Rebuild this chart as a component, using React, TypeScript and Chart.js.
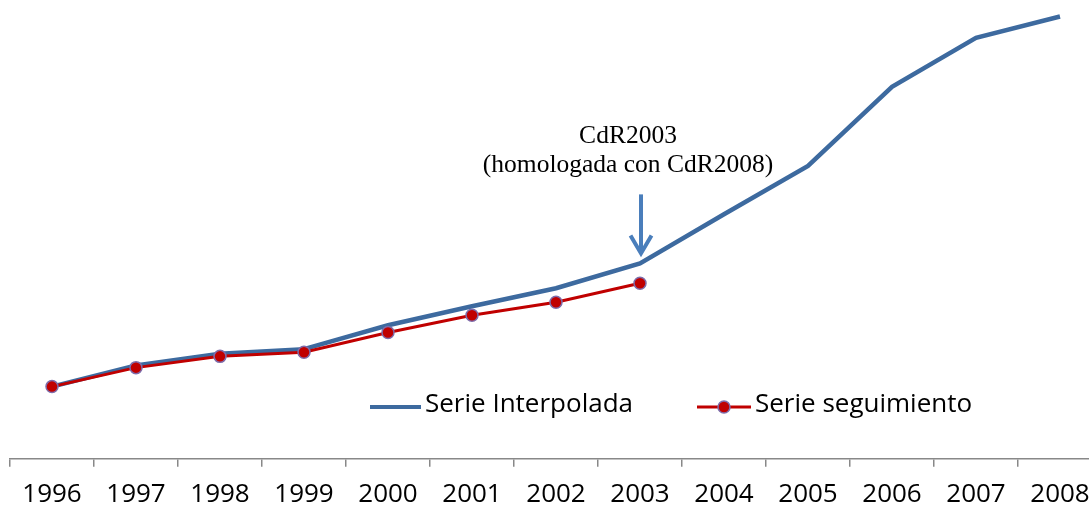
import React, { useEffect, useRef } from "react";
import { Chart, registerables } from "chart.js";

Chart.register(...registerables);

const years = ["1996", "1997", "1998", "1999", "2000", "2001", "2002", "2003", "2004", "2005", "2006", "2007", "2008"];
const serieInterpolada = [16.0, 20.7, 23.3, 24.3, 29.6, 33.8, 37.8, 43.3, 54.2, 64.9, 82.4, 93.3, 98.0];
const serieSeguimiento = [16.0, 20.2, 22.7, 23.6, 28.0, 31.8, 34.7, 38.9, null, null, null, null, null];
const annotationLines = ["CdR2003", "(homologada con CdR2008)"];
const annotationYear = "2003";

const BLUE = "#3D6A9F";
const RED = "#C00000";
const MARKER_BORDER = "#7E6CAA";
const ARROW = "#4A7EBB";

const overlayPlugin = {
  id: "overlay",
  afterDatasetsDraw(chart: any) {
    const ctx = chart.ctx;
    const xs = chart.scales.x;
    const ys = chart.scales.y;
    const idx = years.indexOf(annotationYear);
    const px = xs.getPixelForValue(idx);
    const py = ys.getPixelForValue(serieInterpolada[idx]);
    ctx.save();
    // arrow
    ctx.strokeStyle = ARROW;
    ctx.lineWidth = 4;
    ctx.lineCap = "butt";
    const tipY = py - 10;
    ctx.beginPath();
    ctx.moveTo(px + 1, tipY - 59);
    ctx.lineTo(px + 1, tipY);
    ctx.stroke();
    ctx.beginPath();
    ctx.moveTo(px - 9.5, tipY - 18);
    ctx.lineTo(px + 1, tipY);
    ctx.lineTo(px + 11.5, tipY - 18);
    ctx.stroke();
    // annotation text
    ctx.fillStyle = "#000";
    ctx.font = "25.5px 'Liberation Serif', serif";
    ctx.textAlign = "center";
    ctx.textBaseline = "middle";
    ctx.fillText(annotationLines[0], px - 12, tipY - 117);
    ctx.fillText(annotationLines[1], px - 12, tipY - 88);

    // legend
    const ds = chart.data.datasets;
    const ly = 407;
    ctx.font = "26px 'Open Sans', sans-serif";
    ctx.textAlign = "left";
    // item 1
    ctx.strokeStyle = ds[0].borderColor;
    ctx.lineWidth = 4;
    ctx.beginPath();
    ctx.moveTo(370, ly);
    ctx.lineTo(421, ly);
    ctx.stroke();
    ctx.fillStyle = "#000";
    ctx.fillText(ds[0].label, 425, ly - 2);
    // item 2
    ctx.strokeStyle = ds[1].borderColor;
    ctx.lineWidth = 3;
    ctx.beginPath();
    ctx.moveTo(697, ly);
    ctx.lineTo(751, ly);
    ctx.stroke();
    ctx.beginPath();
    ctx.arc(724, ly, 6, 0, Math.PI * 2);
    ctx.fillStyle = ds[1].pointBackgroundColor;
    ctx.fill();
    ctx.lineWidth = 1.5;
    ctx.strokeStyle = ds[1].pointBorderColor;
    ctx.stroke();
    ctx.fillStyle = "#000";
    ctx.fillText(ds[1].label, 755, ly - 2);
    ctx.restore();
  },
};

export default function App() {
  const ref = useRef<HTMLCanvasElement | null>(null);
  useEffect(() => {
    if (!ref.current) return;
    const chart = new Chart(ref.current, {
      type: "line",
      data: {
        labels: years,
        datasets: [
          {
            label: "Serie Interpolada",
            data: serieInterpolada,
            borderColor: BLUE,
            backgroundColor: BLUE,
            borderWidth: 4.5,
            pointRadius: 0,
            tension: 0,
            order: 2,
          },
          {
            label: "Serie seguimiento",
            data: serieSeguimiento as any,
            borderColor: RED,
            backgroundColor: RED,
            borderWidth: 3,
            pointRadius: 6,
            pointBackgroundColor: RED,
            pointBorderColor: MARKER_BORDER,
            pointBorderWidth: 1.5,
            tension: 0,
            spanGaps: false,
            order: 1,
          },
        ],
      },
      options: {
        animation: false,
        responsive: false,
        layout: { padding: { left: 10, right: 13, top: 7, bottom: 0 } },
        plugins: { legend: { display: false }, tooltip: { enabled: false } },
        scales: {
          x: {
            offset: true,
            grid: {
              offset: true,
              drawOnChartArea: false,
              drawTicks: true,
              tickLength: 8,
              color: "#888888",
              lineWidth: 1.5,
            },
            border: { display: true, color: "#888888", width: 1.5 },
            ticks: {
              color: "#000",
              font: { family: "'Open Sans', sans-serif", size: 26 },
              padding: 12,
              maxRotation: 0,
              autoSkip: false,
            },
          },
          y: {
            display: false,
            min: 0,
            max: 100,
          },
        },
      },
      plugins: [overlayPlugin],
    });
    return () => chart.destroy();
  }, []);
  return (
    <div style={{ position: "fixed", left: 0, top: 0, width: 1089, height: 508, overflow: "hidden", background: "#fff" }}>
      <canvas ref={ref} width={1115} height={522} style={{ display: "block" }} />
    </div>
  );
}
